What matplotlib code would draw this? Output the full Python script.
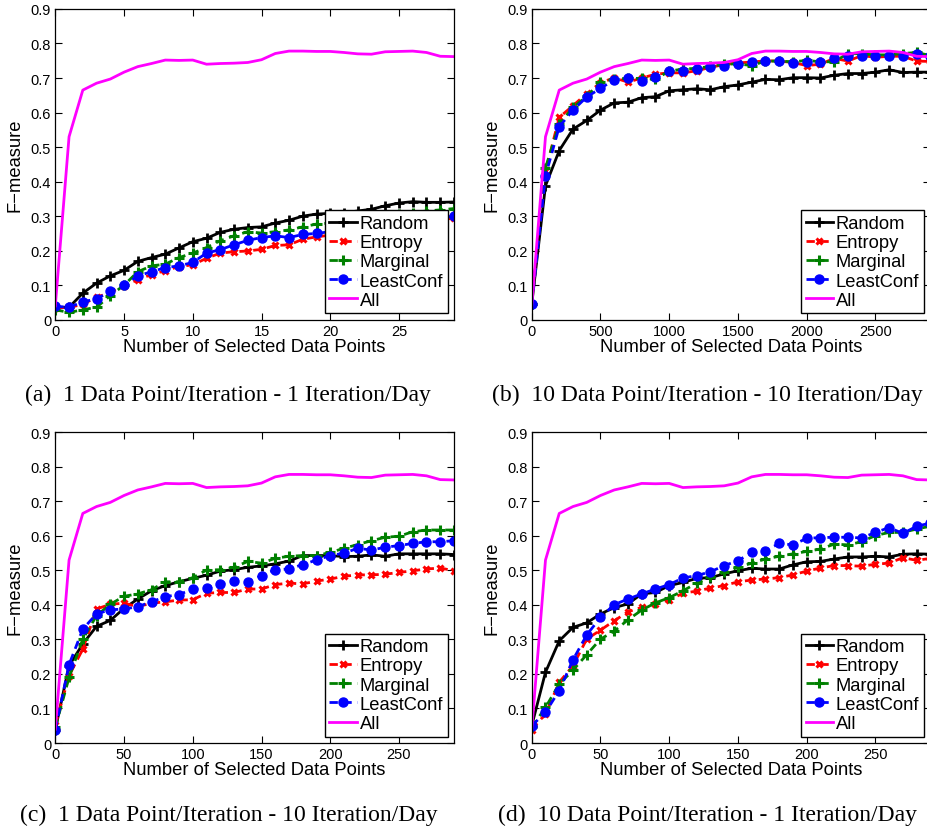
import numpy as np
import matplotlib
matplotlib.use("Agg")
import matplotlib.pyplot as plt

plt.rcParams['font.family'] = ['Liberation Sans', 'DejaVu Sans']

# x positions for the four runs
x_a = np.arange(0, 30, 1)
x_b = np.arange(0, 3000, 100)
x_c = np.arange(0, 300, 10)
x_d = np.arange(0, 300, 10)

# "All" curve (same in every panel)
all_f = [0.04, 0.53, 0.665, 0.685, 0.697, 0.717, 0.733, 0.742, 0.752, 0.751,
         0.752, 0.740, 0.742, 0.743, 0.745, 0.753, 0.771, 0.778, 0.778, 0.777,
         0.777, 0.774, 0.770, 0.769, 0.776, 0.777, 0.778, 0.774, 0.763, 0.762]

# (a) 1 point/iter - 1 iter/day
random_a = [0.036, 0.036, 0.077, 0.106, 0.127, 0.143, 0.169, 0.18, 0.19, 0.208,
            0.226, 0.236, 0.253, 0.262, 0.267, 0.269, 0.28, 0.288, 0.30, 0.306,
            0.308, 0.31, 0.315, 0.32, 0.33, 0.338, 0.342, 0.34, 0.34, 0.341]
entropy_a = [0.035, 0.035, 0.045, 0.065, 0.079, 0.098, 0.116, 0.131, 0.142, 0.154,
             0.159, 0.178, 0.193, 0.197, 0.199, 0.204, 0.215, 0.217, 0.233, 0.24,
             0.245, 0.25, 0.255, 0.26, 0.265, 0.27, 0.275, 0.28, 0.288, 0.295]
marginal_a = [0.029, 0.021, 0.029, 0.036, 0.07, 0.10, 0.139, 0.156, 0.161, 0.18,
              0.193, 0.209, 0.229, 0.243, 0.255, 0.251, 0.255, 0.26, 0.269, 0.277,
              0.28, 0.285, 0.29, 0.295, 0.30, 0.305, 0.31, 0.315, 0.318, 0.322]
leastconf_a = [0.039, 0.036, 0.052, 0.06, 0.083, 0.10, 0.127, 0.139, 0.151, 0.156,
               0.166, 0.193, 0.203, 0.217, 0.23, 0.238, 0.243, 0.238, 0.247, 0.25,
               0.255, 0.26, 0.265, 0.27, 0.275, 0.28, 0.285, 0.29, 0.295, 0.30]

# (b) 10 points/iter - 10 iter/day
random_b = [0.045, 0.388, 0.49, 0.552, 0.577, 0.607, 0.628, 0.63, 0.643, 0.646,
            0.663, 0.666, 0.669, 0.666, 0.675, 0.68, 0.688, 0.696, 0.695, 0.701,
            0.701, 0.70, 0.708, 0.713, 0.713, 0.717, 0.724, 0.716, 0.717, 0.717]
entropy_b = [0.045, 0.43, 0.586, 0.62, 0.655, 0.686, 0.701, 0.688, 0.70, 0.711,
             0.715, 0.715, 0.721, 0.731, 0.739, 0.744, 0.746, 0.75, 0.749, 0.745,
             0.736, 0.74, 0.757, 0.749, 0.765, 0.76, 0.763, 0.763, 0.749, 0.748]
marginal_b = [0.045, 0.44, 0.567, 0.615, 0.647, 0.688, 0.697, 0.699, 0.699, 0.697,
              0.72, 0.726, 0.728, 0.734, 0.74, 0.741, 0.736, 0.749, 0.749, 0.747,
              0.751, 0.747, 0.747, 0.771, 0.77, 0.767, 0.767, 0.771, 0.774, 0.765]
leastconf_b = [0.045, 0.417, 0.559, 0.607, 0.645, 0.67, 0.695, 0.70, 0.692, 0.703,
               0.719, 0.721, 0.726, 0.731, 0.736, 0.741, 0.747, 0.75, 0.749, 0.744,
               0.745, 0.747, 0.757, 0.763, 0.765, 0.763, 0.763, 0.763, 0.769, 0.765]

# (c) 1 point/iter - 10 iter/day
random_c = [0.039, 0.224, 0.287, 0.338, 0.355, 0.39, 0.417, 0.441, 0.456, 0.467,
            0.477, 0.486, 0.498, 0.502, 0.509, 0.513, 0.519, 0.527, 0.543, 0.543,
            0.543, 0.54, 0.541, 0.545, 0.541, 0.548, 0.548, 0.548, 0.548, 0.546]
entropy_c = [0.052, 0.195, 0.272, 0.388, 0.402, 0.405, 0.395, 0.405, 0.409, 0.414,
             0.415, 0.434, 0.436, 0.436, 0.446, 0.446, 0.459, 0.463, 0.461, 0.469,
             0.475, 0.483, 0.487, 0.487, 0.489, 0.494, 0.499, 0.504, 0.507, 0.499]
marginal_c = [0.045, 0.19, 0.301, 0.369, 0.402, 0.425, 0.432, 0.444, 0.467, 0.467,
              0.479, 0.501, 0.502, 0.509, 0.526, 0.521, 0.535, 0.541, 0.543, 0.543,
              0.552, 0.564, 0.575, 0.586, 0.596, 0.599, 0.612, 0.617, 0.617, 0.617]
leastconf_c = [0.039, 0.227, 0.33, 0.374, 0.386, 0.388, 0.395, 0.409, 0.424, 0.43,
               0.446, 0.448, 0.461, 0.468, 0.467, 0.485, 0.502, 0.504, 0.517, 0.53,
               0.543, 0.55, 0.564, 0.559, 0.567, 0.572, 0.578, 0.583, 0.583, 0.586]

# (d) 10 points/iter - 1 iter/day
random_d = [0.05, 0.205, 0.296, 0.335, 0.348, 0.374, 0.392, 0.403, 0.432, 0.436,
            0.456, 0.465, 0.477, 0.479, 0.49, 0.499, 0.506, 0.504, 0.504, 0.516,
            0.525, 0.526, 0.533, 0.539, 0.539, 0.541, 0.539, 0.547, 0.548, 0.547]
entropy_d = [0.039, 0.084, 0.176, 0.224, 0.301, 0.327, 0.354, 0.38, 0.393, 0.404,
             0.414, 0.434, 0.44, 0.449, 0.456, 0.467, 0.472, 0.475, 0.479, 0.487,
             0.498, 0.507, 0.514, 0.514, 0.512, 0.518, 0.521, 0.537, 0.529, 0.535]
marginal_d = [0.045, 0.103, 0.171, 0.211, 0.256, 0.301, 0.324, 0.357, 0.385, 0.406,
              0.421, 0.441, 0.463, 0.48, 0.494, 0.509, 0.521, 0.533, 0.541, 0.548,
              0.555, 0.562, 0.576, 0.574, 0.583, 0.601, 0.61, 0.61, 0.62, 0.628]
leastconf_d = [0.05, 0.089, 0.152, 0.241, 0.313, 0.364, 0.401, 0.417, 0.432, 0.446,
               0.459, 0.478, 0.485, 0.496, 0.514, 0.528, 0.552, 0.557, 0.578, 0.574,
               0.593, 0.595, 0.596, 0.596, 0.594, 0.61, 0.624, 0.607, 0.628, 0.637]

panels = [
    (x_a, random_a, entropy_a, marginal_a, leastconf_a, [0, 29], [0, 5, 10, 15, 20, 25],
     "(a)  1 Data Point/Iteration - 1 Iteration/Day"),
    (x_b, random_b, entropy_b, marginal_b, leastconf_b, [0, 2900], [0, 500, 1000, 1500, 2000, 2500],
     "(b)  10 Data Point/Iteration - 10 Iteration/Day"),
    (x_c, random_c, entropy_c, marginal_c, leastconf_c, [0, 290], [0, 50, 100, 150, 200, 250],
     "(c)  1 Data Point/Iteration - 10 Iteration/Day"),
    (x_d, random_d, entropy_d, marginal_d, leastconf_d, [0, 290], [0, 50, 100, 150, 200, 250],
     "(d)  10 Data Point/Iteration - 1 Iteration/Day"),
]

# axes boxes in figure fractions (right column runs slightly off the page)
boxes = [
    [0.0596, 0.6168, 0.4296, 0.3713],
    [0.5730, 0.6168, 0.4296, 0.3713],
    [0.0596, 0.1111, 0.4296, 0.3712],
    [0.5730, 0.1111, 0.4296, 0.3712],
]
caption_pos = [(0.246, 0.527), (0.762, 0.527), (0.247, 0.026), (0.762, 0.026)]

fig = plt.figure(figsize=(9.28, 8.37), dpi=100)

for i, (x, r, e, m, lc, xlim, xticks, cap) in enumerate(panels):
    ax = fig.add_axes(boxes[i])
    ax.plot(x, r, '-', color='black', lw=2, marker='+', ms=6.5, mew=2, label='Random')
    ax.plot(x, e, '--', color='red', lw=2, marker='x', ms=4.5, mew=2.2, dashes=(3, 2), label='Entropy')
    ax.plot(x, m, '--', color=(0, 0.5, 0), lw=2, marker='+', ms=6.5, mew=2.2, dashes=(3, 2), label='Marginal')
    ax.plot(x, lc, '--', color='blue', lw=2, marker='o', ms=6.5, dashes=(3, 2), label='LeastConf')
    ax.plot(x, all_f, '-', color='magenta', lw=2, label='All')

    ax.set_xlim(xlim)
    ax.set_ylim(0, 0.9)
    ax.set_xticks(xticks)
    ax.set_xticklabels([str(t) for t in xticks])
    yt = np.arange(0, 10) / 10
    ax.set_yticks(yt)
    ax.set_yticklabels(['0'] + ['%.1f' % v for v in yt[1:]])
    ax.tick_params(direction='in', top=True, right=True, length=5, width=0.8,
                   labelsize=10.5, pad=3)
    for s in ax.spines.values():
        s.set_linewidth(0.9)
    ax.set_xlabel('Number of Selected Data Points', fontsize=13.2, labelpad=0)
    ax.set_ylabel('F\u2212measure', fontsize=13.2, labelpad=5)

    leg = ax.legend(loc='lower right', fontsize=13.2, handlelength=1.5, handletextpad=0.15,
                    labelspacing=0.12, borderpad=0.25, borderaxespad=0.35,
                    fancybox=False, framealpha=1, edgecolor='black')
    leg.get_frame().set_linewidth(1.0)

    fig.text(caption_pos[i][0], caption_pos[i][1], cap, ha='center', va='center',
             fontsize=17, family='Liberation Serif')

fig.savefig('out.png', dpi=100)
